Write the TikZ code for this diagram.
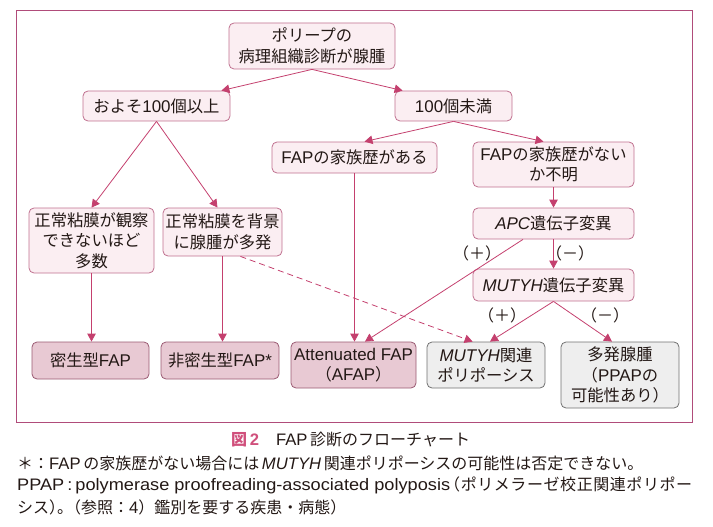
\documentclass[tikz,border=0pt]{standalone}
\usepackage{graphicx}
\usepackage{fontspec}
\setmainfont{Noto Sans CJK JP}[AutoFakeSlant=0.2]
\newfontfamily\lib{Liberation Sans}[Scale=1.04]
\newcommand{\latn}[1]{{\lib #1}}
\newcommand{\latni}[1]{{\lib\itshape #1}}
\usetikzlibrary{arrows.meta,calc}
\definecolor{framec}{HTML}{B04C7A}
\definecolor{arrc}{HTML}{C4406E}
\definecolor{nodeb}{HTML}{C0708F}
\definecolor{nodef}{HTML}{FBEEF2}
\definecolor{darkf}{HTML}{E8C9D3}
\definecolor{darkb}{HTML}{9A5A72}
\definecolor{greyf}{HTML}{EEEEEE}
\definecolor{greyb}{HTML}{707070}
\definecolor{capc}{HTML}{D0507C}
\definecolor{textc}{HTML}{231815}
\tikzset{
  box/.style={draw=nodeb, fill=nodef, rounded corners=5pt, line width=0.8pt,
    align=center, inner sep=0pt, text=textc, font=\fontsize{16.3}{20.5}\selectfont},
  darkbox/.style={box, draw=darkb, fill=darkf},
  greybox/.style={box, draw=greyb, fill=greyf},
  arr/.style={draw=arrc, line width=0.8pt, -{Triangle[width=8.5pt,length=8pt]}},
  dasharr/.style={arr, dash pattern=on 6pt off 4pt},
  lbl/.style={inner sep=0pt, text=textc, font=\fontsize{16}{18}\selectfont},
  captext/.style={inner sep=0pt, anchor=west, text=textc, font=\fontsize{16}{20}\selectfont}
}
\begin{document}
\begin{tikzpicture}[x=1pt,y=-1pt]
\useasboundingbox (0,0) rectangle (713,527);
\draw[framec, line width=0.9pt] (16,10) rectangle (692,422);

\node[box, minimum width=166pt, minimum height=46pt] (top) at (312,46) {ポリープの\\病理組織診断が腺腫};
\node[box, minimum width=147pt, minimum height=30pt] (p100) at (156.5,106) {およそ\latn{100}個以上};
\node[box, minimum width=117pt, minimum height=30pt] (lt100) at (453.5,106) {\latn{100}個未満};
\node[box, minimum width=165pt, minimum height=31pt] (fapyes) at (354.5,157.5) {\latn{FAP}の家族歴がある};
\node[box, minimum width=161pt, minimum height=45pt] (fapno) at (553.5,164.5) {\latn{FAP}の家族歴がない\\か不明};
\node[box, minimum width=161pt, minimum height=31pt] (apc) at (553.5,223.5) {\latni{APC}遺伝子変異};
\node[box, minimum width=161pt, minimum height=32pt] (mutyh) at (553.5,285) {\latni{MUTYH}遺伝子変異};
\node[box, minimum width=125pt, minimum height=65pt] (normA) at (91.5,240.5) {正常粘膜が観察\\できないほど\\多数};
\node[box, minimum width=119pt, minimum height=48pt] (normB) at (222.5,232) {正常粘膜を背景\\に腺腫が多発};
\node[darkbox, minimum width=117pt, minimum height=37pt] (dense) at (90.5,360.5) {密生型\latn{FAP}};
\node[darkbox, minimum width=118pt, minimum height=37pt] (nondense) at (220,360.5) {非密生型\latn{FAP*}};
\node[darkbox, minimum width=125pt, minimum height=46pt] (afap) at (353.5,365) {\latn{Attenuated FAP}\\（\latn{AFAP}）};
\node[greybox, minimum width=118pt, minimum height=46pt] (mpoly) at (486,365) {\latni{MUTYH}関連\\ポリポーシス};
\node[greybox, minimum width=118pt, minimum height=66pt] (multi) at (620,375) {多発腺腫\\（\latn{PPAP}の\\可能性あり）};

\draw[arr] (top.south) -- ([xshift=-9pt]p100.north east);
\draw[arr] (top.south) -- ([xshift=8pt]lt100.north west);
\draw[arr] (lt100.south) -- ([xshift=10pt]fapyes.north);
\draw[arr] (lt100.south) -- ([xshift=-10pt]fapno.north);
\draw[arr] (p100.south) -- (normA.north);
\draw[arr] (p100.south) -- ([xshift=-5pt]normB.north);
\draw[arr] (normA.south) -- (normA.south |- dense.north);
\draw[arr] (normB.south) -- (normB.south |- nondense.north);
\draw[dasharr] ([xshift=-42pt]normB.south east) -- ([xshift=46pt]mpoly.north west);
\draw[arr] (fapyes.south) -- (fapyes.south |- afap.north);
\draw[arr] ([xshift=-30.5pt]apc.south) -- ([xshift=11.5pt]afap.north);
\draw[arr] (fapno.south) -- (apc.north);
\draw[arr] (apc.south) -- (mutyh.north);
\draw[arr] (mutyh.south) -- ([xshift=4pt]mpoly.north);
\draw[arr] (mutyh.south) -- ([xshift=-8pt]multi.north);

\node[lbl] (l1) at (477,253) {（＋）};
\node[lbl] (l2) at (570,253) {（－）};
\node[lbl] (l3) at (502,315) {（＋）};
\node[lbl] (l4) at (605,315) {（－）};

\node[captext] (c1) at (231,440) {\textcolor{capc}{\bfseries 図\,\latn{2}}\hspace{17pt}\latn{FAP}\,診断のフローチャート};
\node[captext] (c2) at (17,463) {＊：\latn{FAP}\,の家族歴がない場合には\,\latni{MUTYH}\,関連ポリポーシスの可能性は否定できない。};
\node[captext] (c3) at (17,485) {\resizebox{433pt}{\height}{\lib PPAP\,:\,polymerase proofreading-associated polyposis}\kern-6pt\makebox[248pt][s]{（\hfill ポ\hfill リ\hfill メ\hfill ラ\hfill ー\hfill ゼ\hfill 校\hfill 正\hfill 関\hfill 連\hfill ポ\hfill リ\hfill ポ\hfill ー}};
\node[captext] (c4) at (17,507) {シス）\kern-.5em。\kern-.5em（参照：\latn{4}）鑑別を要する疾患・病態）};
\end{tikzpicture}
\end{document}
